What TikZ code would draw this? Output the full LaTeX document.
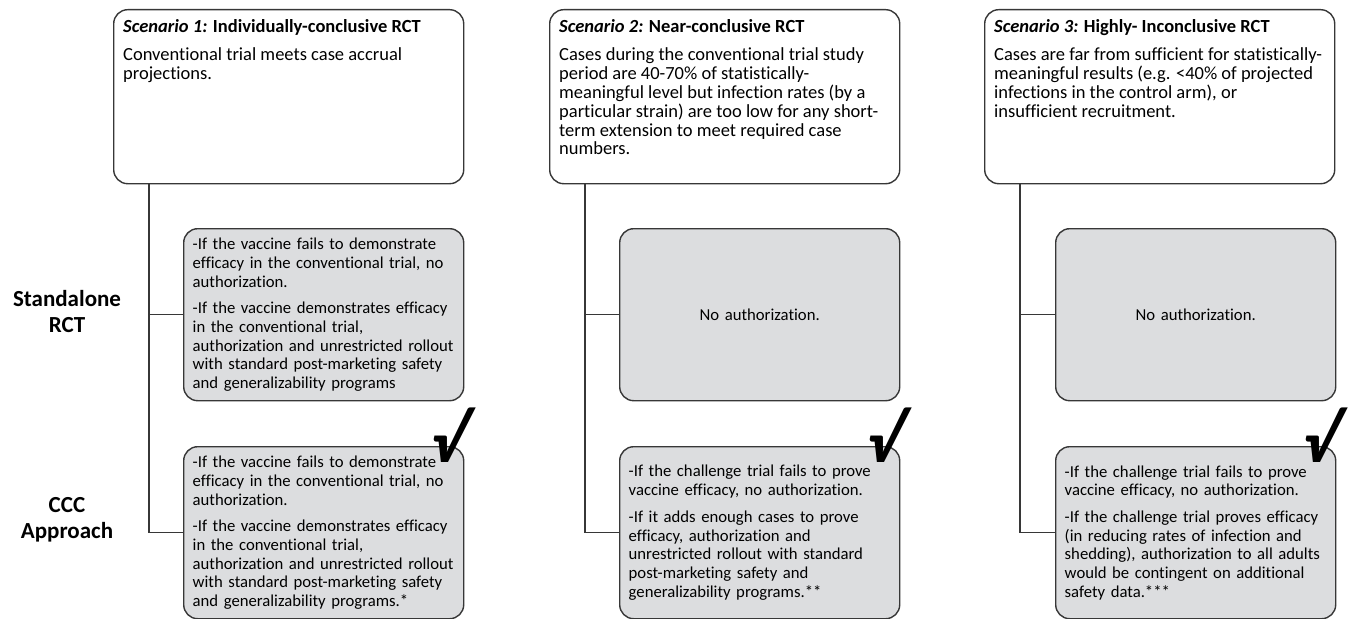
\documentclass[tikz,border=0pt]{standalone}
\usepackage{fontspec}
\setmainfont[Ligatures=NoCommon]{Carlito}
\usetikzlibrary{positioning}
\definecolor{boxgray}{RGB}{220,221,223}
\definecolor{edgegray}{RGB}{55,55,55}

\tikzset{
  scenbox/.style={draw=edgegray, line width=1.4pt, rounded corners=14pt, anchor=north west,
    inner xsep=9.5pt, inner ysep=9.5pt, font=\fontsize{18.5}{18.8}\selectfont},
  outbox/.style={draw=edgegray, fill=boxgray, line width=1.4pt, rounded corners=14pt, anchor=north west,
    text width=262pt, inner xsep=9pt, inner ysep=0pt, minimum height=172pt, align=left,
    font=\fontsize{16.7}{18.7}\selectfont},
  rowlabel/.style={align=center, font=\fontsize{23}{26}\selectfont\bfseries},
  tick/.style={inner sep=0pt, xslant=0.22, transform shape, font=\fontsize{68}{68}\selectfont\bfseries},
  trunk/.style={draw=edgegray, line width=1.2pt}
}
\newcommand{\scenhead}[2]{\textbf{\textit{#1} #2}}

\begin{document}
\begin{tikzpicture}[x=1pt, y=-1pt]
        \useasboundingbox (0,0) rectangle (1351,618);

        % Scenario boxes
        \node[scenbox] (s1) at (113,9) {\parbox[b][155pt][t]{331pt}{\raggedright
            \scenhead{Scenario 1:}{Individually-conclusive RCT}\\[10pt]
            Conventional trial meets case accrual\\ projections.}};
        \node[scenbox] (s2) at (549,9) {\parbox[b][155pt][t]{331pt}{\raggedright
            \scenhead{Scenario 2:}{Near-conclusive RCT}\\[10pt]
            Cases during the conventional trial study\\ period are 40-70\% of statistically-\\
            meaningful level but infection rates (by a\\ particular strain) are too low for any short-\\
            term extension to meet required case\\ numbers.}};
        \node[scenbox] (s3) at (984,9) {\parbox[b][155pt][t]{331pt}{\raggedright
            \scenhead{Scenario 3:}{Highly- Inconclusive RCT}\\[10pt]
            Cases are far from sufficient for statistically-\\ meaningful results (e.g. <40\% of projected\\
            infections in the control arm), or\\ insufficient recruitment.}};

        % Row labels
        \node[rowlabel] (lsa) at (67,312) {Standalone\\RCT};
        \node[rowlabel] (lccc) at (67,520) {CCC\\Approach};

        % Standalone RCT outcomes
        \node[outbox] (sa1) at (183,228) {-If the vaccine fails to demonstrate\\ efficacy in the conventional trial, no\\ authorization.\\[8pt]
            -If the vaccine demonstrates efficacy\\ in the conventional trial,\\ authorization and unrestricted rollout\\
            with standard post-marketing safety\\ and generalizability programs};
        \node[outbox, align=center] (sa2) at (619,228) {No authorization.};
        \node[outbox, align=center] (sa3) at (1055,228) {No authorization.};

        % CCC outcomes
        \node[outbox] (ccc1) at (183,446) {-If the vaccine fails to demonstrate\\ efficacy in the conventional trial, no\\ authorization.\\[8pt]
            -If the vaccine demonstrates efficacy\\ in the conventional trial,\\ authorization and unrestricted rollout\\
            with standard post-marketing safety\\ and generalizability programs.*};
        \node[outbox] (ccc2) at (619,446) {-If the challenge trial fails to prove\\ vaccine efficacy, no authorization.\\[8pt]
            -If it adds enough cases to prove\\ efficacy, authorization and\\ unrestricted rollout with standard\\
            post-marketing safety and\\ generalizability programs.**};
        \node[outbox] (ccc3) at (1055,446) {-If the challenge trial fails to prove\\ vaccine efficacy, no authorization.\\[8pt]
            -If the challenge trial proves efficacy\\ (in reducing rates of infection and\\ shedding), authorization to all adults\\
            would be contingent on additional\\ safety data.***};

        % Ticks
        \foreach \n in {ccc1, ccc2, ccc3}
            \node[tick] at ([xshift=-14pt, yshift=11pt]\n.north east) {√};

        % Connectors
        \foreach \s/\a/\c in {s1/sa1/ccc1, s2/sa2/ccc2, s3/sa3/ccc3} {
            \draw[trunk] ([xshift=36pt]\s.south west) |- (\a.west);
            \draw[trunk] ([xshift=36pt]\s.south west) |- (\c.west);
        }
    \end{tikzpicture}
\end{document}
